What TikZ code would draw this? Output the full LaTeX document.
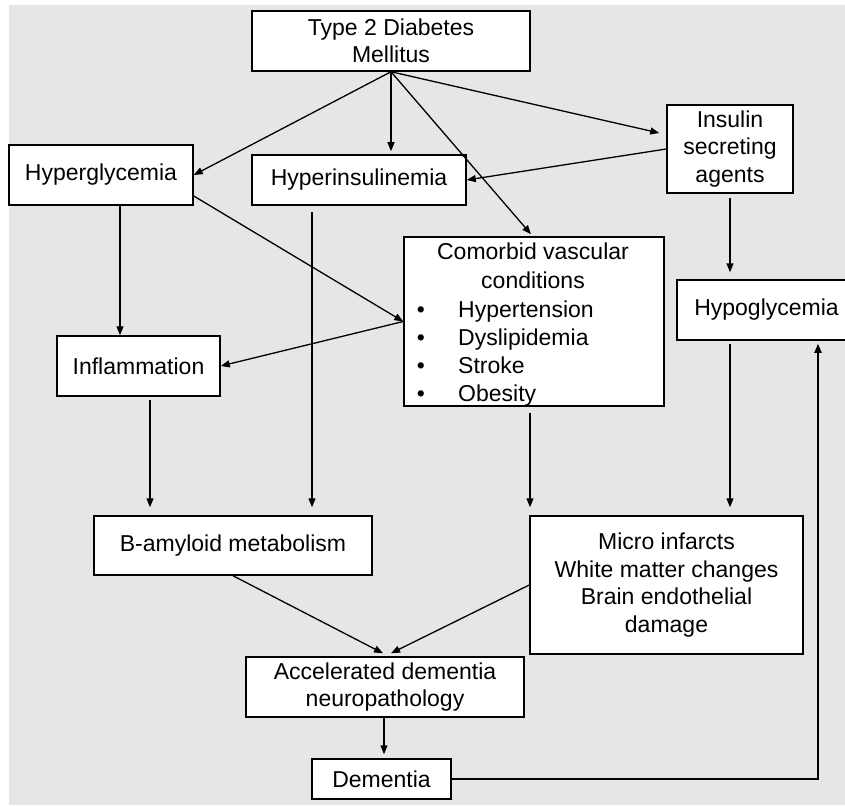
\documentclass[tikz,border=0pt]{standalone}
\usepackage{fontspec}
\setmainfont{Liberation Sans}
\usetikzlibrary{arrows.meta,calc}
\definecolor{bggray}{RGB}{230,230,230}
\begin{document}
\begin{tikzpicture}[x=1pt,y=-1pt,
  box/.style={draw=black,fill=white,line width=1.5pt,inner sep=0pt,align=center,font=\fontsize{23}{27.5}\selectfont},
  lbl/.style={inner sep=0pt,font=\fontsize{23}{27.5}\selectfont},
  arr/.style={line width=1.3pt,-{Triangle[length=9pt,width=7pt]}},
]
\useasboundingbox (0,0) rectangle (845,805);
\fill[bggray] (9,5) rectangle (845,805);

\node[box,minimum width=278,minimum height=60] (t2dm) at (391,41) {Type 2 Diabetes\\Mellitus};
\node[box,minimum width=184,minimum height=60] (hyperg) at (101,175) {Hyperglycemia};
\node[box,minimum width=214,minimum height=50] (hyperins) at (359,180) {Hyperinsulinemia};
\node[box,minimum width=126,minimum height=88] (insulin) at (730,149) {Insulin\\secreting\\agents};
\node[box,minimum width=260,minimum height=169] (comorbid) at (534,321.5) {};
\node[box,minimum width=179,minimum height=60] (hypogly) at (766.5,310) {Hypoglycemia};
\node[box,minimum width=163,minimum height=60] (inflam) at (138.5,366) {Inflammation};
\node[box,minimum width=278,minimum height=59] (bamyloid) at (233,545.5) {B-amyloid metabolism};
\node[box,minimum width=273,minimum height=138] (micro) at (666.5,585) {Micro infarcts\\White matter changes\\Brain endothelial\\damage};
\node[box,minimum width=278,minimum height=60] (accel) at (385,687) {Accelerated dementia\\neuropathology};
\node[box,minimum width=139,minimum height=40] (dementia) at (381.5,779) {Dementia};

% comorbid box text
\node[lbl,anchor=base] (c1) at (533,259) {Comorbid vascular};
\node[lbl,anchor=base] (c2) at (533,288) {conditions};
\node[lbl,anchor=base] (b1) at (421,317) {•};
\node[lbl,anchor=base] (b2) at (421,345) {•};
\node[lbl,anchor=base] (b3) at (421,373) {•};
\node[lbl,anchor=base] (b4) at (421,401) {•};
\node[lbl,anchor=base west] (i1) at (458,317) {Hypertension};
\node[lbl,anchor=base west] (i2) at (458,345) {Dyslipidemia};
\node[lbl,anchor=base west] (i3) at (458,373) {Stroke};
\node[lbl,anchor=base west] (i4) at (458,401) {Obesity};

% connectors
\draw[arr] (t2dm.south) -- (hyperg.east);
\draw[arr,shorten >=3pt] (t2dm.south) -- (t2dm.south |- hyperins.north);
\draw[arr] (t2dm.south) -- ($(comorbid.north)+(-3,-2)$);
\draw[arr] (t2dm.south) -- ($(insulin.west)+(-7,-16)$);
\draw[arr] (insulin.west) -- (hyperins.east);
\draw[arr] ($(hyperg.east)+(0,21)$) -- (comorbid.west);
\draw[arr] (comorbid.west) -- (inflam.east);
\draw[arr] ($(hyperg.south)+(19,0)$) -- ($(inflam.north)+(-18.5,0)$);
\draw[arr] ($(hyperins.south)+(-47,6)$) -- ($(bamyloid.north)+(79,-8)$);
\draw[arr] ($(inflam.south)+(11.5,3)$) -- ($(bamyloid.north)+(-83,-8)$);
\draw[arr] ($(comorbid.south)+(-4,6)$) -- ($(micro.north)+(-136.5,-8)$);
\draw[arr] ($(insulin.south)+(0,4)$) -- ($(hypogly.north)+(-36.5,-7)$);
\draw[arr] ($(hypogly.south)+(-36.5,3)$) -- ($(micro.north)+(63.5,-8)$);
\draw[arr] (micro.west) -- ($(accel.north)+(6,-3)$);
\draw[arr] (bamyloid.south) -- ($(accel.north)+(-2,-3)$);
\draw[arr] ($(accel.south)+(-1,0)$) -- ($(dementia.north)+(2.5,-4)$);
\draw[arr,line width=1.8pt] (dementia.east) -- ($(dementia.east -| hypogly.south)+(51.5,0)$) -- ($(hypogly.south)+(51.5,3)$);
\end{tikzpicture}
\end{document}
